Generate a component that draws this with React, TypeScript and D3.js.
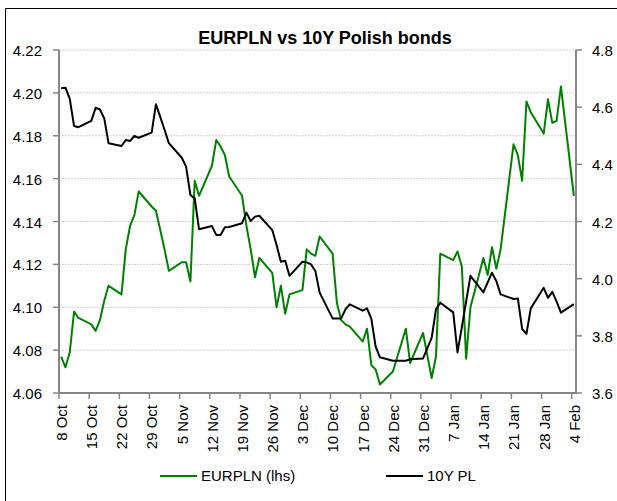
import React from 'react';
import * as d3 from 'd3';

// Business days (Oct 2018 - Feb 2019)
const dates = [
  '2018-10-08', '2018-10-09', '2018-10-10', '2018-10-11', '2018-10-12',
  '2018-10-15', '2018-10-16', '2018-10-17', '2018-10-18', '2018-10-19',
  '2018-10-22', '2018-10-23', '2018-10-24', '2018-10-25', '2018-10-26',
  '2018-10-29', '2018-10-30', '2018-10-31', '2018-11-01', '2018-11-02',
  '2018-11-05', '2018-11-06', '2018-11-07', '2018-11-08', '2018-11-09',
  '2018-11-12', '2018-11-13', '2018-11-14', '2018-11-15', '2018-11-16',
  '2018-11-19', '2018-11-20', '2018-11-21', '2018-11-22', '2018-11-23',
  '2018-11-26', '2018-11-27', '2018-11-28', '2018-11-29', '2018-11-30',
  '2018-12-03', '2018-12-04', '2018-12-05', '2018-12-06', '2018-12-07',
  '2018-12-10', '2018-12-11', '2018-12-12', '2018-12-13', '2018-12-14',
  '2018-12-17', '2018-12-18', '2018-12-19', '2018-12-20', '2018-12-21',
  '2018-12-24', '2018-12-27', '2018-12-28',
  '2018-12-31', '2019-01-02', '2019-01-03', '2019-01-04',
  '2019-01-07', '2019-01-08', '2019-01-09', '2019-01-10', '2019-01-11',
  '2019-01-14', '2019-01-15', '2019-01-16', '2019-01-17', '2019-01-18',
  '2019-01-21', '2019-01-22', '2019-01-23', '2019-01-24', '2019-01-25',
  '2019-01-28', '2019-01-29', '2019-01-30', '2019-01-31', '2019-02-01',
  '2019-02-04',
];

const eurpln = [
  4.077, 4.072, 4.079, 4.098, 4.095,
  4.092, 4.089, 4.094, 4.103, 4.110,
  4.106, 4.127, 4.138, 4.143, 4.154,
  4.147, 4.145, 4.136, 4.127, 4.117,
  4.121, 4.121, 4.112, 4.159, 4.152,
  4.166, 4.178, 4.175, 4.171, 4.161,
  4.152, 4.138, 4.127, 4.114, 4.123,
  4.116, 4.100, 4.110, 4.097, 4.106,
  4.108, 4.127, 4.125, 4.124, 4.133,
  4.125, 4.102, 4.094, 4.092, 4.091,
  4.084, 4.090, 4.073, 4.071, 4.064,
  4.070, 4.090, 4.074,
  4.088, 4.067, 4.077, 4.125,
  4.122, 4.126, 4.119, 4.076, 4.100,
  4.123, 4.115, 4.128, 4.118, 4.127,
  4.176, 4.171, 4.159, 4.196, 4.191,
  4.181, 4.197, 4.186, 4.187, 4.203,
  4.152,
];

const pl10y = [
  4.666, 4.668, 4.629, 4.534, 4.530,
  4.552, 4.598, 4.592, 4.561, 4.474,
  4.464, 4.485, 4.482, 4.499, 4.493,
  4.511, 4.610, 4.566, 4.521, 4.474,
  4.423, 4.392, 4.293, 4.281, 4.173,
  4.184, 4.153, 4.153, 4.180, 4.181,
  4.194, 4.231, 4.202, 4.217, 4.220,
  4.170, 4.118, 4.059, 4.063, 4.010,
  4.059, 4.057, 4.050, 4.027, 3.951,
  3.861, 3.861, 3.861, 3.893, 3.910,
  3.888, 3.896, 3.859, 3.762, 3.725,
  3.713, 3.713, 3.718,
  3.721, 3.793, 3.893, 3.916,
  3.882, 3.742, 3.830, 3.920, 4.010,
  3.952, 3.987, 4.021, 3.992, 3.945,
  3.929, 3.931, 3.824, 3.807, 3.896,
  3.968, 3.933, 3.954, 3.920, 3.881,
  3.911,
];

const xDomain = ['2018-10-08', '2019-02-05'];
const xTickDates = [
  '2018-10-08', '2018-10-15', '2018-10-22', '2018-10-29', '2018-11-05',
  '2018-11-12', '2018-11-19', '2018-11-26', '2018-12-03', '2018-12-10',
  '2018-12-17', '2018-12-24', '2018-12-31', '2019-01-07', '2019-01-14',
  '2019-01-21', '2019-01-28', '2019-02-04',
];
const leftTicks = [4.06, 4.08, 4.10, 4.12, 4.14, 4.16, 4.18, 4.20, 4.22];
const rightTicks = [3.6, 3.8, 4.0, 4.2, 4.4, 4.6, 4.8];

const title = 'EURPLN vs 10Y Polish bonds';
const legendItems = [
  { label: 'EURPLN (lhs)', color: '#008000' },
  { label: '10Y PL', color: '#000000' },
];

const W = 617;
const H = 501;
const plot = { left: 59, right: 576, top: 50, bottom: 393 };
const font = 'Arial, "Liberation Sans", sans-serif';
const axisColor = '#868686';

export default function App() {
  const parse = d3.utcParse('%Y-%m-%d');
  const fmt = d3.utcFormat('%-d %b');
  const halfDay = 12 * 3600 * 1000;

  const x = d3.scaleUtc()
    .domain(xDomain.map(d => parse(d) as Date))
    .range([plot.left, plot.right]);
  const yL = d3.scaleLinear().domain([4.06, 4.22]).range([plot.bottom, plot.top]);
  const yR = d3.scaleLinear().domain([3.6, 4.8]).range([plot.bottom, plot.top]);

  const pts = dates.map((d, i) => ({
    t: new Date((parse(d) as Date).getTime() + halfDay),
    a: eurpln[i],
    b: pl10y[i],
  }));

  const lineA = d3.line<any>().x(d => x(d.t)).y(d => yL(d.a));
  const lineB = d3.line<any>().x(d => x(d.t)).y(d => yR(d.b));

  return (
    <svg
      width={W}
      height={H}
      style={{ position: 'fixed', left: 0, top: 0, background: '#fff' }}
      fontFamily={font}
    >
      <rect x={0} y={0} width={W} height={H} fill="#fff" />
      <path d={`M5.5,${H} V8.5 H${W}`} fill="none" stroke="#000" strokeWidth={1} />

      <text x={325} y={44} textAnchor="middle" fontSize={18} fontWeight="bold" fill="#000">
        {title}
      </text>

      {/* gridlines */}
      {leftTicks.slice(1).map(t => (
        <line
          key={'g' + t}
          x1={plot.left}
          x2={plot.right}
          y1={yL(t)}
          y2={yL(t)}
          stroke="#cfcfcf"
          strokeWidth={1}
          strokeDasharray="2,1"
        />
      ))}

      {/* left axis */}
      <line x1={plot.left} x2={plot.left} y1={plot.top} y2={plot.bottom + 1} stroke={axisColor} strokeWidth={2} />
      {leftTicks.map(t => (
        <g key={'l' + t}>
          <line x1={plot.left - 6} x2={plot.left} y1={yL(t)} y2={yL(t)} stroke={axisColor} strokeWidth={1.5} />
          <text x={42} y={yL(t) + 6} textAnchor="end" fontSize={15} fill="#000">
            {d3.format('.2f')(t)}
          </text>
        </g>
      ))}

      {/* right axis */}
      <line x1={plot.right} x2={plot.right} y1={plot.top} y2={plot.bottom + 1} stroke={axisColor} strokeWidth={2} />
      {rightTicks.map(t => (
        <g key={'r' + t}>
          <line x1={plot.right} x2={plot.right + 6} y1={yR(t)} y2={yR(t)} stroke={axisColor} strokeWidth={1.5} />
          <text x={592} y={yR(t) + 6} textAnchor="start" fontSize={15} fill="#000">
            {d3.format('.1f')(t)}
          </text>
        </g>
      ))}

      {/* bottom axis */}
      <line x1={plot.left - 1} x2={plot.right + 1} y1={plot.bottom} y2={plot.bottom} stroke={axisColor} strokeWidth={2} />
      {xTickDates.map(d => {
        const tx = x(parse(d) as Date);
        return (
          <g key={'x' + d}>
            <line x1={tx} x2={tx} y1={plot.bottom} y2={plot.bottom + 6} stroke={axisColor} strokeWidth={1.5} />
            <text
              transform={`translate(${tx + 8},${plot.bottom + 12}) rotate(-90)`}
              textAnchor="end"
              fontSize={15}
              fill="#000"
            >
              {fmt(parse(d) as Date)}
            </text>
          </g>
        );
      })}

      {/* series */}
      <path d={lineA(pts) || ''} fill="none" stroke="#008000" strokeWidth={2} strokeLinejoin="round" />
      <path d={lineB(pts) || ''} fill="none" stroke="#000" strokeWidth={2} strokeLinejoin="round" />

      {/* legend */}
      {legendItems.map((it, i) => {
        const lx = i === 0 ? 160 : 386;
        return (
          <g key={it.label}>
            <line x1={lx} x2={lx + 37} y1={476} y2={476} stroke={it.color} strokeWidth={2} />
            <text x={lx + 41} y={481} fontSize={15} fill="#000">
              {it.label}
            </text>
          </g>
        );
      })}
    </svg>
  );
}
